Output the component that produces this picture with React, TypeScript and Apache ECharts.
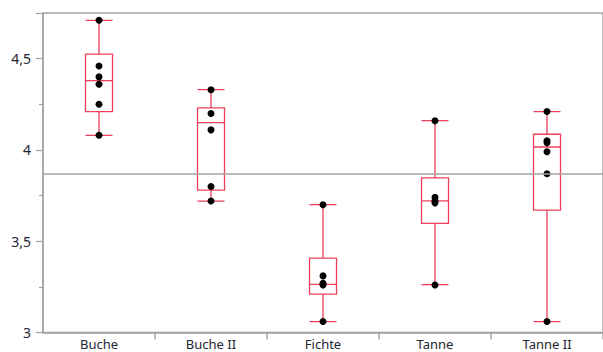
import React, { useEffect, useRef } from "react";
import * as echarts from "echarts";

const categories = ["Buche", "Buche II", "Fichte", "Tanne", "Tanne II"];

// box statistics: [min, Q1, median, Q3, max]
const boxBuche = [4.08, 4.21, 4.38, 4.525, 4.71];
const boxBucheII = [3.72, 3.78, 4.15, 4.23, 4.33];
const boxFichte = [3.06, 3.21, 3.264, 3.407, 3.7];
const boxTanne = [3.262, 3.598, 3.721, 3.847, 4.16];
const boxTanneII = [3.06, 3.67, 4.016, 4.086, 4.21];

// individual observations
const ptsBuche = [4.71, 4.46, 4.4, 4.36, 4.25, 4.08];
const ptsBucheII = [4.33, 4.2, 4.11, 3.8, 3.72];
const ptsFichte = [3.7, 3.31, 3.27, 3.26, 3.06];
const ptsTanne = [4.16, 3.74, 3.72, 3.71, 3.26];
const ptsTanneII = [4.21, 4.05, 4.04, 3.99, 3.87, 3.06];

const grandMean = 3.87;
const yTicks = [3, 3.5, 4, 4.5];

const RED = "#ec4159";
const GRAY = "#a3a3a3";
const TEXT = "#1e2533";
const FONT = "'Noto Sans', 'Open Sans', sans-serif";

export default function App() {
  const ref = useRef<HTMLDivElement>(null);
  useEffect(() => {
    if (!ref.current) return;
    const chart = echarts.init(ref.current, undefined, { renderer: "svg" });
    const boxes = [boxBuche, boxBucheII, boxFichte, boxTanne, boxTanneII];
    const pts = [ptsBuche, ptsBucheII, ptsFichte, ptsTanne, ptsTanneII];
    const scatterData: [string, number][] = [];
    pts.forEach((arr, i) => arr.forEach((v) => scatterData.push([categories[i], v])));
    chart.setOption({
      animation: false,
      grid: {
        left: 43,
        top: 13,
        bottom: 19.5,
        right: -6.5,
        show: true,
        borderColor: GRAY,
        borderWidth: 1.5,
        backgroundColor: "transparent",
      },
      xAxis: {
        type: "category",
        data: categories,
        boundaryGap: true,
        axisLine: { lineStyle: { color: GRAY, width: 1.5 } },
        axisTick: {
          show: true,
          length: 7,
          interval: (i: number) => i !== 0,
          lineStyle: { color: GRAY, width: 1.5 },
        },
        axisLabel: { color: TEXT, fontSize: 13, fontFamily: FONT, margin: 5 },
        splitLine: { show: false },
      },
      yAxis: {
        type: "value",
        min: 3,
        max: 4.75,
        interval: 0.5,
        axisLine: { show: true, lineStyle: { color: GRAY, width: 1.5 } },
        axisTick: { show: true, length: 7, lineStyle: { color: GRAY, width: 1.2 } },
        minorTick: { show: true, splitNumber: 2, length: 4, lineStyle: { color: GRAY, width: 1.2 } },
        splitLine: { show: false },
        axisLabel: {
          color: TEXT,
          fontSize: 14,
          fontFamily: FONT,
          margin: 12,
          showMaxLabel: false,
          formatter: (v: number) => (yTicks.includes(v) ? String(v).replace(".", ",") : ""),
        },
      },
      series: [
        {
          type: "boxplot",
          data: boxes,
          boxWidth: [27, 27],
          itemStyle: { color: "rgba(255,255,255,0)", borderColor: RED, borderWidth: 1.3 },
          z: 2,
        },
        {
          type: "scatter",
          data: scatterData,
          symbolSize: 7,
          itemStyle: { color: "#000", opacity: 1 },
          z: 3,
          markLine: {
            silent: true,
            symbol: "none",
            label: { show: false },
            lineStyle: { color: GRAY, width: 1.5, type: "solid" },
            data: [{ yAxis: grandMean }],
          },
        },
      ],
    });
    return () => chart.dispose();
  }, []);
  return (
    <div style={{ position: "fixed", left: 0, top: 0, width: 603, height: 352, background: "#fff" }}>
      <div ref={ref} style={{ width: 603, height: 352 }} />
    </div>
  );
}
